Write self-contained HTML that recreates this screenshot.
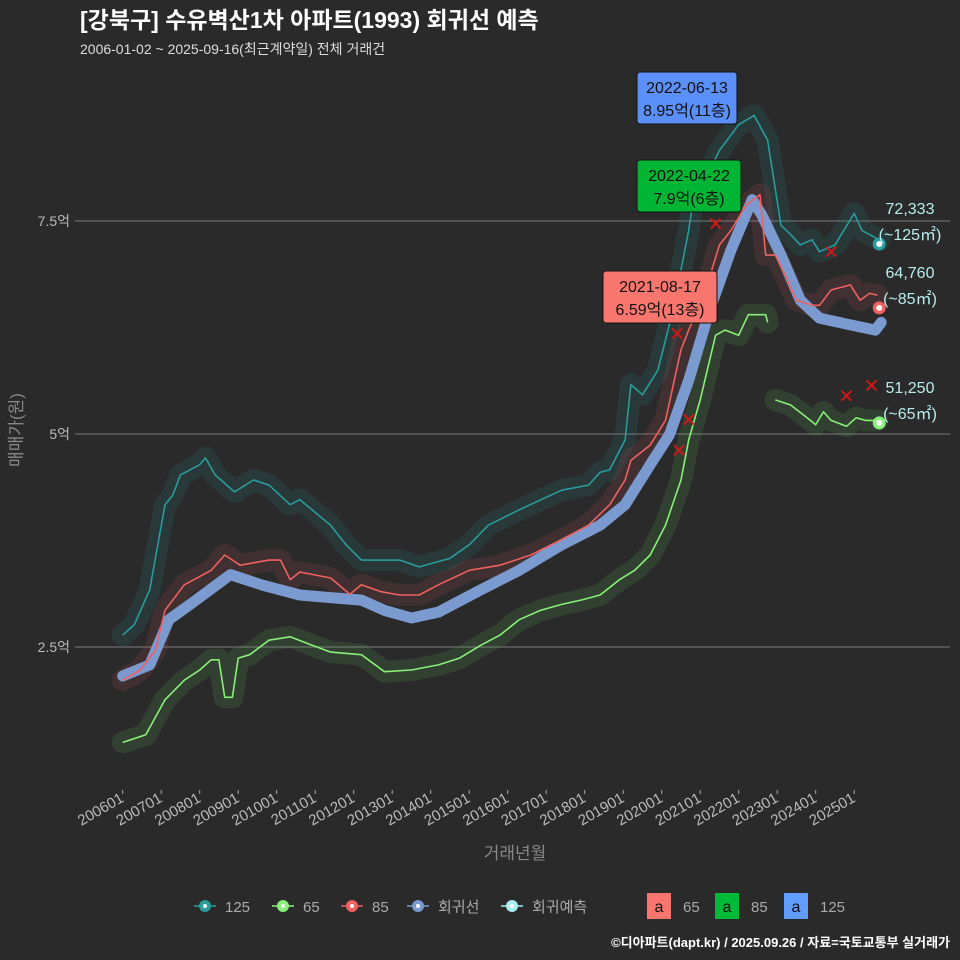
<!DOCTYPE html>
<html><head><meta charset="utf-8"><style>
body{margin:0;background:#2a2a2b;}
svg{display:block;font-family:"Liberation Sans","Noto Sans CJK KR",sans-serif;}
</style></head><body>
<svg id="c" width="960" height="960" viewBox="0 0 960 960">
<rect width="960" height="960" fill="#2a2a2b"/>
<text x="80" y="28" fill="#fff" font-size="23" font-weight="bold" font-family="Liberation Sans,'Noto Sans CJK KR',sans-serif">[강북구] 수유벽산1차 아파트(1993) 회귀선 예측</text>
<text x="80" y="54" fill="#ddd" font-size="14">2006-01-02 ~ 2025-09-16(최근계약일) 전체 거래건</text>
<g id="grid"></g>
<g id="clouds"></g>
<g id="lines"></g>
<g id="marks"></g>
<text transform="translate(22,430) rotate(-90)" text-anchor="middle" fill="#888" font-size="17">매매가(원)</text>
<text x="515" y="859" text-anchor="middle" fill="#888" font-size="17">거래년월</text>
<g id="legend" font-size="15" fill="#aaa"></g>
<text x="950" y="947" text-anchor="end" fill="#fff" font-size="13" font-weight="bold">©디아파트(dapt.kr) / 2025.09.26 / 자료=국토교통부 실거래가</text>
</svg>
<script>
const yTicks=[2.5,5,7.5];
const yTickLabels=["2.5억","5억","7.5억"];
const xTickYears=[2006,2007,2008,2009,2010,2011,2012,2013,2014,2015,2016,2017,2018,2019,2020,2021,2022,2023,2024,2025];
const xTickLabels=["200601","200701","200801","200901","201001","201101","201201","201301","201401","201501","201601","201701","201801","201901","202001","202101","202201","202301","202401","202501"];
const regT=[2006.0,2006.7,2007.2,2007.75,2008.8,2009.6,2010.6,2011.4,2012.2,2012.8,2013.5,2014.2,2015.3,2016.3,2017.4,2018.4,2019.05,2019.7,2020.2,2020.7,2021.25,2021.8,2022.35,2022.6,2023.1,2023.6,2024.1,2024.9,2025.55,2025.7];
const regV=[2.16,2.29,2.82,3.0,3.35,3.23,3.11,3.08,3.05,2.93,2.84,2.91,3.17,3.40,3.70,3.93,4.17,4.64,4.99,5.63,6.46,7.16,7.75,7.57,7.1,6.57,6.36,6.28,6.22,6.31];
const s125T=[2006.0,2006.3,2006.7,2007.1,2007.3,2007.5,2008.0,2008.15,2008.4,2008.9,2009.4,2009.8,2010.35,2010.6,2011.4,2011.8,2012.2,2013.2,2013.7,2014.5,2015.0,2015.5,2016.3,2017.4,2018.1,2018.4,2018.65,2019.05,2019.2,2019.5,2019.9,2020.3,2020.7,2020.8,2021.5,2022.0,2022.4,2022.75,2023.1,2023.35,2023.6,2023.9,2024.1,2024.5,2025.0,2025.2,2025.65];
const s125V=[2.64,2.76,3.17,4.17,4.28,4.52,4.64,4.72,4.52,4.32,4.46,4.40,4.17,4.23,3.93,3.70,3.52,3.52,3.44,3.54,3.70,3.93,4.11,4.34,4.40,4.55,4.58,4.93,5.58,5.46,5.75,6.46,7.39,7.69,8.33,8.63,8.74,8.45,7.45,7.34,7.22,7.28,7.14,7.22,7.59,7.39,7.28];
const s85T=[2006.0,2006.45,2006.85,2007.1,2007.6,2008.3,2008.65,2009.05,2009.8,2010.1,2010.35,2010.6,2011.4,2011.9,2012.2,2012.7,2013.2,2013.7,2014.2,2015.0,2015.8,2016.6,2017.4,2018.1,2018.65,2019.05,2019.2,2019.7,2020.1,2020.5,2020.7,2021.1,2021.5,2021.8,2022.2,2022.55,2022.7,2022.95,2023.2,2023.5,2023.9,2024.1,2024.4,2024.9,2025.15,2025.4,2025.6];
const s85V=[2.11,2.23,2.46,2.93,3.23,3.40,3.58,3.46,3.52,3.52,3.29,3.38,3.31,3.12,3.23,3.15,3.11,3.11,3.23,3.40,3.46,3.58,3.76,3.93,4.17,4.46,4.69,4.87,5.16,5.99,6.22,6.63,7.22,7.39,7.69,7.81,7.10,7.10,6.87,6.57,6.51,6.51,6.69,6.75,6.57,6.65,6.63];
const s65aT=[2006.0,2006.6,2007.1,2007.6,2008.0,2008.3,2008.5,2008.65,2008.85,2009.0,2009.3,2009.8,2010.35,2010.75,2011.4,2012.2,2012.8,2013.5,2014.2,2014.75,2015.3,2015.8,2016.3,2016.85,2017.4,2017.9,2018.4,2018.9,2019.3,2019.7,2020.1,2020.5,2020.7,2021.0,2021.4,2021.65,2022.0,2022.25,2022.7,2022.75];
const s65aV=[1.38,1.47,1.88,2.11,2.23,2.35,2.35,1.91,1.91,2.37,2.41,2.58,2.62,2.55,2.44,2.41,2.21,2.23,2.29,2.37,2.52,2.64,2.82,2.93,3.00,3.05,3.11,3.29,3.40,3.58,3.93,4.46,4.93,5.40,6.16,6.22,6.16,6.40,6.40,6.31];
const s65bT=[2022.95,2023.35,2023.75,2024.0,2024.2,2024.4,2024.8,2025.05,2025.3,2025.6];
const s65bV=[5.40,5.34,5.20,5.11,5.26,5.16,5.09,5.19,5.16,5.16];
const xMarkT=[2021.4,2020.4,2020.7,2020.45,2024.4,2024.8,2025.45];
const xMarkV=[7.47,6.18,5.17,4.81,7.14,5.45,5.57];

const X=t=>122.7+(t-2006)*38.5;
const Y=v=>434-(v-5)*85.2;
const NS="http://www.w3.org/2000/svg";
function mk(tag,parent,attrs){const e=document.createElementNS(NS,tag);for(const k in attrs)e.setAttribute(k,attrs[k]);parent.appendChild(e);return e;}
const grid=document.getElementById('grid');
yTicks.forEach((v,i)=>{
  const l=mk('line',grid,{x1:75,x2:950,y1:Y(v),y2:Y(v),stroke:'#6a6a6a','stroke-width':1.2});
  
  
  const t=mk('text',grid,{x:70,y:Y(v)+5,'text-anchor':'end',fill:'#bbb','font-size':14});
  t.textContent=yTickLabels[i];
  
  
});
xTickYears.forEach((yr,i)=>{
  const x=X(yr);
  const tk=mk('line',grid,{x1:x,x2:x,y1:790,y2:794,stroke:'#aaa'});
  
  
  const t=mk('text',grid,{transform:`translate(${x+2},${801}) rotate(-30)`,'text-anchor':'end',fill:'#bbb','font-size':15});
  t.textContent=xTickLabels[i];
  
  
});
const pts=(T,V)=>T.map((t,i)=>X(t).toFixed(1)+','+Y(V[i]).toFixed(1)).join(' ');
const clouds=document.getElementById('clouds');
[[s125T,s125V,'#2a9c9c'],[s85T,s85V,'#e05a5a'],[s65aT,s65aV,'#6ed860'],[s65bT,s65bV,'#6ed860']].forEach(([T,V,c])=>{
  const p=mk('polyline',clouds,{points:pts(T,V),fill:'none',stroke:c,'stroke-width':22,'stroke-opacity':0.13,'stroke-linejoin':'round','stroke-linecap':'round'});
  
  
});
const lines=document.getElementById('lines');
const r=mk('polyline',lines,{points:pts(regT,regV),fill:'none',stroke:'#7b9ad0','stroke-width':11,'stroke-linejoin':'round','stroke-linecap':'round'});


[[s125T,s125V,'#2a9c9c','line-125'],[s85T,s85V,'#f06060','line-85'],[s65aT,s65aV,'#88f078','line-65'],[s65bT,s65bV,'#88f078','line-65-recent']].forEach(([T,V,c,n])=>{
  const p=mk('polyline',lines,{points:pts(T,V),fill:'none',stroke:c,'stroke-width':1.6,'stroke-linejoin':'round'});
  
  
});
const marks=document.getElementById('marks');
xMarkT.forEach((t,i)=>{
  const x=X(t),y=Y(xMarkV[i]);
  const g=mk('path',marks,{d:`M${x-5},${y-5}L${x+5},${y+5}M${x+5},${y-5}L${x-5},${y+5}`,stroke:'#d01818','stroke-width':2});
  
  
});
const endT=[2025.65,2025.65,2025.65];
const endV=[7.23,6.48,5.13];
const endC=['#2a9c9c','#f06060','#88f078'];
const endNums=["72,333","64,760","51,250"];
const endAreas=["(~125㎡)","(~85㎡)","(~65㎡)"];
endT.forEach((t,i)=>{
  const x=X(t),y=Y(endV[i]);
  const c=mk('circle',marks,{cx:x,cy:y,r:6.5,fill:endC[i]});
  
  
  mk('circle',marks,{cx:x,cy:y,r:3,fill:'#fff'});
  const a=mk('text',marks,{x:910,y:y-30,'text-anchor':'middle',fill:'#b8ecec','font-size':16});
  a.textContent=endNums[i];
  
  
  const b=mk('text',marks,{x:910,y:y-4,'text-anchor':'middle',fill:'#b8ecec','font-size':16});
  b.textContent=endAreas[i];
  
  
});
const boxes=[[637,72,100,52,'#5b8ff9','2022-06-13','8.95억(11층)','annotation-max-125'],[637,160,104,52,'#00b533','2022-04-22','7.9억(6층)','annotation-max-85'],[603,271,114,52,'#f8766d','2021-08-17','6.59억(13층)','annotation-max-65']];
boxes.forEach(([x,y,w,h,c,d,v,n])=>{
  const g=mk('g',marks,{});
  
  
  mk('rect',g,{x:x,y:y,width:w,height:h,rx:3,fill:c,stroke:'#111','stroke-width':1});
  const t1=mk('text',g,{x:x+w/2,y:y+21,'text-anchor':'middle',fill:'#111','font-size':16});t1.textContent=d;
  const t2=mk('text',g,{x:x+w/2,y:y+44,'text-anchor':'middle',fill:'#111','font-size':16});t2.textContent=v;
});
const leg=document.getElementById('legend');
const legC=['#2a9c9c','#88f078','#f06060','#7b9ad0','#a8eeee'];
const legL=['125','65','85','회귀선','회귀예측'];
const legX=[205,283,352,418,512];
legC.forEach((c,i)=>{
  const g=mk('g',leg,{});
  
  
  mk('line',g,{x1:legX[i]-11,x2:legX[i]+11,y1:906,y2:906,stroke:c,'stroke-width':1.5});
  mk('circle',g,{cx:legX[i],cy:906,r:6,fill:c});
  mk('circle',g,{cx:legX[i],cy:906,r:2,fill:'#fff'});
  const t=mk('text',g,{x:legX[i]+20,y:912,fill:'#aaa','font-size':15});t.textContent=legL[i];
});
const boxC=['#f8766d','#00ba38','#619cff'];
const boxL=['65','85','125'];
const boxX=[647,715,784];
boxC.forEach((c,i)=>{
  const g=mk('g',leg,{});
  
  
  mk('rect',g,{x:boxX[i],y:893,width:24,height:26,fill:c});
  const a=mk('text',g,{x:boxX[i]+12,y:912,'text-anchor':'middle',fill:'#111','font-size':16});a.textContent='a';
  const t=mk('text',g,{x:boxX[i]+36,y:912,fill:'#aaa','font-size':15});t.textContent=boxL[i];
});
</script>
</body></html>
